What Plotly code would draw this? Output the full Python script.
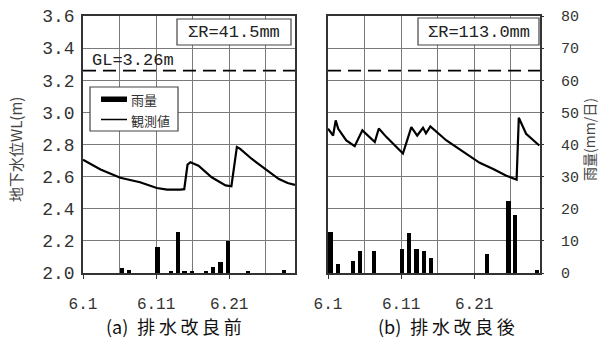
import plotly.graph_objects as go

# ---- data ----
tick_days = [1, 11, 21]
tick_labels = ["6.1", "6.11", "6.21"]
GL = 3.26
sum_rain_a = "ΣR=41.5mm"
sum_rain_b = "ΣR=113.0mm"

rain_a_day = [6.3, 7.3, 11.2, 13.0, 14.0, 14.9, 15.9, 17.8, 18.8, 19.8, 20.8, 23.6, 28.5]
rain_a_mm = [1.6, 1.0, 8.0, 0.5, 12.8, 0.5, 0.5, 0.5, 2.0, 3.4, 9.9, 0.5, 1.0]

rain_b_day = [1.35, 2.37, 4.42, 5.34, 7.25, 11.1, 12.1, 13.1, 14.1, 15.05, 22.75, 25.7, 26.6, 29.6]
rain_b_mm = [12.8, 2.8, 3.6, 7.0, 7.0, 7.5, 12.5, 7.5, 7.0, 4.6, 6.0, 22.4, 18.0, 0.9]

wl_a_day = [1.0, 3.4, 6.1, 8.8, 11.1, 12.5, 14.3, 14.85, 15.3, 15.7, 16.8, 18.6, 20.5, 21.3,
            22.05, 22.5, 24.1, 25.9, 27.8, 29.0, 30.0]
wl_a = [2.705, 2.645, 2.593, 2.565, 2.529, 2.519, 2.519, 2.522, 2.675, 2.69, 2.668, 2.596, 2.545, 2.54,
        2.785, 2.773, 2.71, 2.648, 2.585, 2.56, 2.548]

wl_b_day = [1.0, 1.7, 2.05, 2.4, 3.5, 4.65, 5.7, 6.5, 7.4, 7.95, 9.0, 11.25, 12.4, 13.2, 14.0, 14.4,
            15.0, 17.2, 19.9, 21.75, 23.6, 25.4, 26.8, 27.1, 28.1, 29.9]
wl_b = [2.898, 2.856, 2.95, 2.898, 2.825, 2.79, 2.888, 2.856, 2.815, 2.90, 2.846, 2.744, 2.908, 2.856,
        2.904, 2.87, 2.912, 2.825, 2.742, 2.686, 2.648, 2.606, 2.581, 2.967, 2.867, 2.794]

W, H = 600, 338
def px(x): return x / W
def py(y): return 1 - y / H

MONO = "Liberation Mono"
CJK = "Noto Sans CJK JP"
GRID = "#7a7a7a"
AX = "#333333"

fig = go.Figure()

# left panel
fig.add_trace(go.Bar(x=rain_a_day, y=rain_a_mm, xaxis="x", yaxis="y3", width=0.6,
                     marker=dict(color="black", line=dict(width=0)), name="雨量"))
fig.add_trace(go.Scatter(x=wl_a_day, y=wl_a, xaxis="x", yaxis="y", mode="lines",
                         line=dict(color="black", width=2.2), name="観測値"))
fig.add_trace(go.Scatter(x=[1, 30], y=[GL, GL], xaxis="x", yaxis="y", mode="lines",
                         line=dict(color="black", width=1.6, dash="13px,7px")))
# right panel
fig.add_trace(go.Bar(x=rain_b_day, y=rain_b_mm, xaxis="x2", yaxis="y4", width=0.6,
                     marker=dict(color="black", line=dict(width=0))))
fig.add_trace(go.Scatter(x=wl_b_day, y=wl_b, xaxis="x2", yaxis="y2", mode="lines",
                         line=dict(color="black", width=2.2)))
fig.add_trace(go.Scatter(x=[1, 30], y=[GL, GL], xaxis="x2", yaxis="y2", mode="lines",
                         line=dict(color="black", width=1.6, dash="13px,7px")))

ydom = [py(273), py(16)]
xcommon = dict(range=[1, 30], tickmode="array", tickvals=tick_days, ticktext=tick_labels,
               ticks="outside", ticklen=4, tickcolor=AX, showgrid=True, gridcolor=GRID, gridwidth=1,
               minor=dict(dtick=5, tick0=1, showgrid=True, gridcolor=GRID, gridwidth=1, ticks=""),
               showline=True, linecolor=AX, linewidth=1.5, mirror=True, zeroline=False,
               automargin=False,
               tickfont=dict(family=MONO, size=16, color="#333"), ticklabelstandoff=11)
ycommon = dict(range=[2.0, 3.6], dtick=0.2, tick0=2.0, tickformat=".1f", showgrid=True,
               gridcolor=GRID, gridwidth=1, showline=True, linecolor=AX, linewidth=1.5,
               mirror=True, zeroline=False, ticks="", domain=ydom, automargin=False)

fig.update_layout(
    width=W, height=H, margin=dict(l=0, r=0, t=0, b=0, autoexpand=False),
    paper_bgcolor="white", plot_bgcolor="white", showlegend=False, bargap=0,
    xaxis=dict(domain=[px(83), px(295)], anchor="y", **xcommon),
    xaxis2=dict(domain=[px(328), px(540)], anchor="y2", **xcommon),
    yaxis=dict(anchor="x", tickfont=dict(family=MONO, size=18, color="#333"),
               ticklabelstandoff=3, **ycommon),
    yaxis2=dict(anchor="x2", showticklabels=False, **ycommon),
    yaxis3=dict(overlaying="y", anchor="x", range=[0, 80], visible=False, automargin=False),
    yaxis4=dict(overlaying="y2", anchor="x2", side="right", range=[0, 80], dtick=10,
                showgrid=False, zeroline=False, showline=False, ticks="outside", ticklen=3,
                tickcolor=AX, ticklabelstandoff=14, automargin=False,
                tickfont=dict(family=MONO, size=15, color="#333")),
)

shapes = []
annotations = []

def text(x, y, s, size, family, color="#222", xanchor="center", angle=0):
    annotations.append(dict(x=px(x), y=py(y), xref="paper", yref="paper", text=s, showarrow=False,
                            xanchor=xanchor, yanchor="middle", textangle=angle,
                            font=dict(family=family, size=size, color=color)))

def rect(x0, y0, x1, y1, lw=1.2, color="#444", fill="white"):
    shapes.append(dict(type="rect", xref="paper", yref="paper", x0=px(x0), x1=px(x1),
                       y0=py(y1), y1=py(y0), line=dict(color=color, width=lw), fillcolor=fill))

# sum boxes
rect(177, 19, 291, 45)
text(234, 32, sum_rain_a, 17, MONO)
rect(418, 18, 539, 45)
text(479, 32, sum_rain_b, 17, MONO)

# GL label
text(90, 60, "GL=3.26m", 17, MONO, xanchor="left")

# legend
rect(90, 87, 178, 131)
shapes.append(dict(type="rect", xref="paper", yref="paper", x0=px(101), x1=px(127),
                   y0=py(102), y1=py(96.5), line=dict(width=0), fillcolor="black"))
shapes.append(dict(type="line", xref="paper", yref="paper", x0=px(101), x1=px(127),
                   y0=py(119.5), y1=py(119.5), line=dict(color="black", width=1.5)))
text(129, 99, "雨量", 13, CJK, color="#333", xanchor="left")
text(129, 120, "観測値", 13, CJK, color="#333", xanchor="left")

# axis titles
text(15, 150, "地下水位WL(m)", 15, CJK, color="#444", angle=-90)
text(589, 140, "雨量(mm/日)", 14, CJK, color="#444", angle=-90)

# captions
sp = "\u2009"
text(174, 326, "(a)\u2002" + sp.join("排水改良前"), 18, CJK, color="#111")
text(446, 326, "(b)\u2002" + sp.join("排水改良後"), 18, CJK, color="#111")

fig.update_layout(shapes=shapes, annotations=annotations)
fig.write_html("out.html", config={"displayModeBar": False},
               post_script="document.body.style.margin='0';document.body.style.overflow='hidden';")
